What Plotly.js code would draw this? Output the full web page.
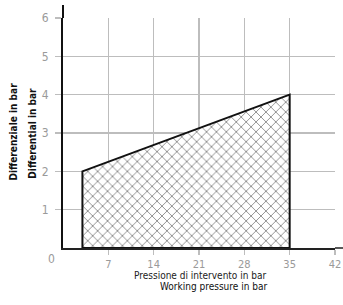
<!DOCTYPE html>
<html>
<head>
<meta charset="utf-8">
<script src="https://cdn.plot.ly/plotly-3.0.1.min.js"></script>
<style>html,body{margin:0;padding:0;background:#fff;}#chart{width:343px;height:305px;}</style>
</head>
<body>
<div id="chart"></div>
<script>
// Data
var areaX = [3, 3, 35, 35, 3];
var areaY = [0, 2, 4, 0, 0];
var xTicks = [7, 14, 21, 28, 35, 42];
var yTicks = [1, 2, 3, 4, 5, 6];
var yTitleLines = ["Differenziale in bar", "Differential in bar"];
var xTitleLines = ["Pressione di intervento in bar", "Working pressure in bar"];

var FONT = "DejaVu Sans Condensed, Liberation Sans Narrow, sans-serif";
var L = 63.3, R = 334.7, T = 18, B = 248;
function px2x(p){ return (p - L) / (R - L); }
function py2y(p){ return (B - p) / (B - T); }

var trace = {
  x: areaX, y: areaY, type: 'scatter', mode: 'lines',
  fill: 'toself', fillcolor: 'rgba(0,0,0,0)',
  fillpattern: {shape: 'x', fgcolor: '#6e6e6e', bgcolor: '#ffffff', size: 7, solidity: 0.2},
  line: {color: '#111', width: 2},
  hoverinfo: 'skip', showlegend: false
};

function ann(text, x, y, opts) {
  var a = {text: text, xref: 'paper', yref: 'paper', x: px2x(x), y: py2y(y),
           xanchor: 'center', yanchor: 'middle', showarrow: false};
  for (var k in opts) a[k] = opts[k];
  return a;
}

var layout = {
  width: 343, height: 305,
  margin: {l: L, r: 343 - R, t: T, b: 305 - B, pad: 0},
  paper_bgcolor: '#fff', plot_bgcolor: '#fff',
  xaxis: {
    range: [0, 42], tickvals: xTicks, ticktext: xTicks.map(String),
    showgrid: true, gridcolor: '#bdbdbd', gridwidth: 1.5,
    zeroline: false, showline: true, linecolor: '#222', linewidth: 1.5,
    ticks: 'outside', ticklen: 5, tickcolor: '#bdbdbd', tickwidth: 1.5,
    tickfont: {family: FONT, size: 11, color: '#9a9a9a'},
    ticklabelstandoff: 0,
    fixedrange: true
  },
  yaxis: {
    range: [0, 6], tickvals: yTicks, ticktext: yTicks.map(String),
    showgrid: true, gridcolor: '#bdbdbd', gridwidth: 1.5,
    zeroline: false, showline: true, linecolor: '#111', linewidth: 2,
    ticks: 'outside', ticklen: 6, tickcolor: '#bdbdbd', tickwidth: 1.5,
    tickfont: {family: FONT, size: 12, color: '#9a9a9a'},
    ticklabelstandoff: 4,
    fixedrange: true
  },
  shapes: [
    {type: 'line', xref: 'paper', yref: 'paper', x0: 0, x1: 0, y0: 1, y1: py2y(5), line: {color: '#111', width: 2}},
    {type: 'line', xref: 'paper', yref: 'paper', x0: 1, x1: px2x(343), y0: 0, y1: 0, line: {color: '#222', width: 1.5}}
  ],
  annotations: [
    ann('0', 52, 259, {font: {family: FONT, size: 12, color: '#9a9a9a'}}),
    ann(yTitleLines[0], 13, 132, {textangle: -90, font: {family: FONT, size: 10, color: '#111', weight: 'bold'}}),
    ann(yTitleLines[1], 32, 133, {textangle: -90, font: {family: FONT, size: 10, color: '#111', weight: 'bold'}}),
    ann(xTitleLines[0], 268, 268.5, {xanchor: 'right', yanchor: 'top', borderpad: 0, font: {family: FONT, size: 10, color: '#222'}}),
    ann(xTitleLines[1], 268, 279.5, {xanchor: 'right', yanchor: 'top', borderpad: 0, font: {family: FONT, size: 10, color: '#111'}})
  ]
};

Plotly.newPlot('chart', [trace], layout, {displayModeBar: false, staticPlot: true});
</script>
</body>
</html>
